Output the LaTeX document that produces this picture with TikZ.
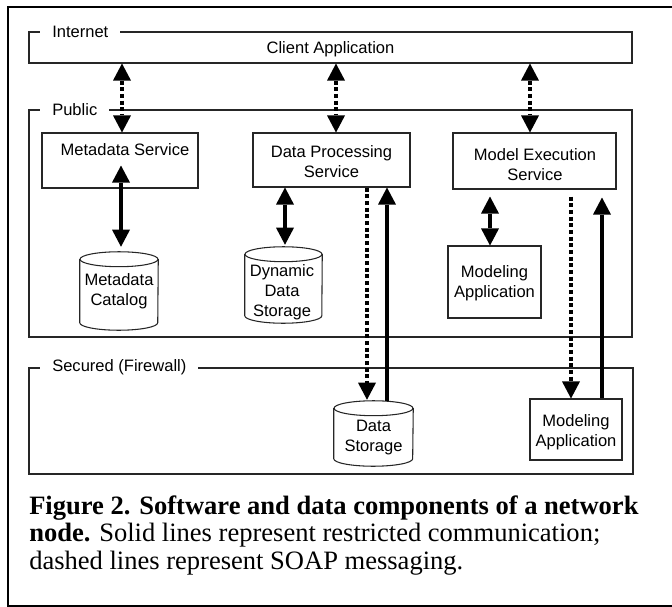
\documentclass[tikz,border=0pt]{standalone}
\usepackage{fontspec}
\setmainfont{Liberation Serif}
\newfontfamily\diagfont{Liberation Sans}
\usetikzlibrary{arrows.meta,fit,calc}

\begin{document}
\begin{tikzpicture}[x=0.75pt,y=-0.75pt,
  >={Triangle[width=13.5pt,length=12.75pt,line width=0pt]},
  frame/.style={line width=1.5pt},
  box/.style={draw=black!85, line width=0.8pt, inner sep=0pt},
  outline/.style={draw=black!85, line width=0.8pt},
  zone/.style={fill=white, inner xsep=9pt, inner ysep=1pt,
    font=\diagfont\fontsize{12.4pt}{15pt}\selectfont},
  txt/.style={font=\diagfont\fontsize{12.4pt}{15pt}\selectfont,
    align=center, inner sep=0pt},
  soap/.style={line width=3.2pt, dash pattern=on 3pt off 2pt},
  rest/.style={line width=3.4pt},
  captxt/.style={anchor=base west, inner sep=0pt,
    font=\fontsize{19.9pt}{22pt}\selectfont},
]
\useasboundingbox (0,0) rectangle (672,607);

% outer frame
\draw[frame] (672,6.5) -- (7.5,6.5) -- (7.5,605.5) -- (672,605.5);

% network zones
\node[box, fit={(29,32)(632,63)}] (inet) {};
\node[txt] (client) at (330.5,49) {Client Application};
\node[box, fit={(29,110)(632,337)}] (pub) {};
\node[box, fit={(29,368)(633,474)}] (sec) {};
\node[zone, anchor=west] (inetlbl) at (40,32) {Internet};
\node[zone, anchor=west] (publbl) at (40,109.5) {Public};
\node[zone, anchor=west] (seclbl) at (40,367) {Secured (Firewall)};

% services and applications
\node[box, fit={(42,133)(198,188)}] (meta) {};
\node[txt] (metatxt) at (125,150) {Metadata Service};
\node[box, fit={(253,133)(410,187)}] (dps) {};
\node[txt] (dpstxt) at (331.5,162) {Data Processing\\Service};
\node[box, fit={(453,133)(616,189)}] (mes) {};
\node[txt] (mestxt) at (535,165) {Model Execution\\Service};
\node[box, fit={(448,246)(541,318)}] (mapp) {};
\node[txt] (mapptxt) at (494.5,283) {Modeling\\Application};
\node[box, fit={(530,399)(622,460)}] (sapp) {};
\node[txt] (sapptxt) at (576,432) {Modeling\\Application};

% data stores (cylinders)
\node[inner sep=0pt, fit={(80,259.5)(158,322.5)}] (cat) {};
\draw[outline] (cat.north west) -- (cat.south west)
  arc[start angle=180, end angle=360, x radius=29.25pt, y radius=5.6pt]
  -- (cat.north east);
\draw[outline] (cat.north) ellipse[x radius=29.25pt, y radius=5.6pt];
\node[txt] (cattxt) at (119,291) {Metadata\\Catalog};

\node[inner sep=0pt, fit={(245,254.5)(322,315.5)}] (dyn) {};
\draw[outline] (dyn.north west) -- (dyn.south west)
  arc[start angle=180, end angle=360, x radius=28.9pt, y radius=5.6pt]
  -- (dyn.north east);
\draw[outline] (dyn.north) ellipse[x radius=28.9pt, y radius=5.6pt];
\node[txt] (dyntxt) at (282,292) {Dynamic\\Data\\Storage};

\node[inner sep=0pt, fit={(334,408.5)(413,458.5)}] (stor) {};
\draw[outline] (stor.north west) -- (stor.south west)
  arc[start angle=180, end angle=360, x radius=29.6pt, y radius=5.6pt]
  -- (stor.north east);
\draw[outline] (stor.north) ellipse[x radius=29.6pt, y radius=5.6pt];
\node[txt] (stortxt) at (373.5,438) {Data\\Storage};

% SOAP messaging from the client
\draw[soap,<->] (inet.south -| 122,0) -- (meta.north -| 122,0);
\draw[soap,<->] (inet.south -| 336,0) -- (dps.north -| 336,0);
\draw[soap,<->] (inet.south -| 530,0) -- (mes.north -| 530,0);

% restricted links inside the public zone
\draw[rest,<->] ($(meta.south -| 121,0)+(0,-23)$) -- ($(cat.north -| 121,0)+(0,-12.5)$);
\draw[rest,<->] (dps.south -| 285,0) -- ($(dyn.north -| 285,0)+(0,-9.5)$);
\draw[rest,<->] ($(mes.south -| 490,0)+(0,7)$) -- (mapp.north -| 490,0);

% links across the firewall
\draw[soap,->] (dps.south -| 367,0) -- ($(stor.north -| 367,0)+(0,-8.5)$);
\draw[rest,<-] (dps.south -| 387,0) -- ($(stor.north -| 387,0)+(0,-7)$);
\draw[soap,->] ($(mes.south -| 571,0)+(0,7)$) -- (sapp.north -| 571,0);
\draw[rest,<-] ($(mes.south -| 602,0)+(0,8)$) -- (sapp.north -| 602,0);

% caption
\node[captxt] (cap1) at (29,514) {\textbf{Figure 2. Software and data components of a network}};
\node[captxt] (cap2) at (29,541.5) {\textbf{node.} Solid lines represent restricted communication;};
\node[captxt] (cap3) at (29,569) {dashed lines represent SOAP messaging.};
\end{tikzpicture}
\end{document}
